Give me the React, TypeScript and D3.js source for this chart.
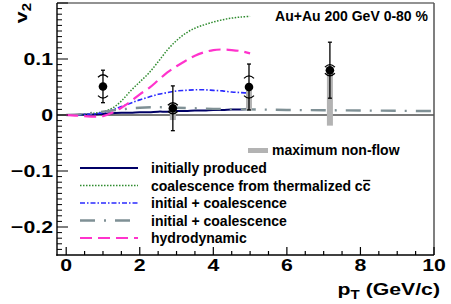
import * as d3 from "d3";

// theory curves share one pT grid (GeV/c)
const curvePt = [0, 0.25, 0.5, 0.75, 1, 1.25, 1.5, 1.75, 2, 2.25, 2.5, 2.75, 3, 3.25, 3.5, 3.75, 4, 4.25, 4.5, 4.75, 5];
const initiallyProduced = [0, 0, 0.001, 0.001, 0.002, 0.003, 0.004, 0.004, 0.005, 0.005, 0.006, 0.006, 0.007, 0.007, 0.008, 0.008, 0.009, 0.009, 0.010, 0.010, 0.011];
const thermalCoal = [0, 0, 0.001, 0.003, 0.006, 0.012, 0.025, 0.043, 0.059, 0.075, 0.095, 0.116, 0.133, 0.146, 0.155, 0.161, 0.166, 0.170, 0.173, 0.175, 0.176];
const initCoalBlue = [0, 0, 0.001, 0.002, 0.004, 0.009, 0.015, 0.021, 0.027, 0.032, 0.037, 0.040, 0.043, 0.044, 0.045, 0.045, 0.044, 0.043, 0.041, 0.040, 0.039];
const hydro = [0, -0.001, -0.002, -0.003, -0.002, 0.004, 0.013, 0.024, 0.037, 0.048, 0.062, 0.076, 0.087, 0.097, 0.106, 0.112, 0.116, 0.117, 0.116, 0.114, 0.110];

const grayPt = [0, 0.5, 1, 1.5, 2, 2.5, 3, 4, 5, 6, 7, 8, 9, 10];
const initCoalGray = [0, 0.002, 0.006, 0.010, 0.013, 0.014, 0.013, 0.011, 0.010, 0.009, 0.0085, 0.008, 0.0075, 0.007];

// measured points
const dataPt = [1.0, 2.9, 4.97, 7.17];
const dataV2 = [0.051, 0.012, 0.050, 0.080];
const statErr = [0.029, 0.04, 0.041, 0.05];
const sysErr = [0.02, 0.009, 0.019, 0.009];
const nonFlow = [0, 0.021, 0.041, 0.099];

const xTicks = [0, 2, 4, 6, 8, 10];
const yTicks = [-0.2, -0.1, 0, 0.1];

const legendLabels = ["initially produced", "coalescence from thermalized cc", "initial + coalescence", "initial + coalescence", "hydrodynamic"];

const W = 451;
const H = 304;
const FONT = "'Liberation Sans', Arial, Helvetica, sans-serif";
const STRETCH = 1.25; // axis text in the original is drawn wider than plain Helvetica

const styles = [
  { color: "#000066", width: 2, dash: "" },
  { color: "#2e8b2e", width: 1.5, dash: "1.5 1.5" },
  { color: "#2a2aff", width: 1.6, dash: "5 2 1.5 2" },
  { color: "#7f9095", width: 2.4, dash: "15 9 2 9" },
  { color: "#ff33cc", width: 2.2, dash: "12 6" },
];

export default function App() {
  const x = d3.scaleLinear().domain([-0.25, 10]).range([57, 434]);
  const y = d3.scaleLinear().domain([-0.25, 0.2]).range([255, 3]);

  const curves = [initiallyProduced, thermalCoal, initCoalBlue, null, hydro];

  const line = d3
    .line<[number, number]>()
    .x((d) => x(d[0]))
    .y((d) => y(d[1]))
    .curve(d3.curveCatmullRom);

  const minorX = d3.range(0, 10.001, 0.5);
  const minorY = d3.range(-24, 21).map((i) => i / 100);

  const legendY = [168, 185.5, 203, 220.5, 238];

  return (
    <svg width={W} height={H} style={{ position: "absolute", left: 0, top: 0, background: "#fff" }} fontFamily={FONT} fontWeight="bold">
      {/* zero line */}
      <line x1={x.range()[0]} x2={x.range()[1]} y1={y(0)} y2={y(0)} stroke="#7a7a7a" strokeWidth={2} />

      {/* theory curves */}
      {curves.map((vals, i) => {
        const pts = vals
          ? curvePt.map((p, j) => [p, vals[j]] as [number, number])
          : grayPt.map((p, j) => [p, initCoalGray[j]] as [number, number]);
        return (
          <path
            key={i}
            d={line(pts) ?? ""}
            fill="none"
            stroke={styles[i].color}
            strokeWidth={styles[i].width}
            strokeDasharray={styles[i].dash}
          />
        );
      })}

      {/* non-flow bars */}
      {dataPt.map((p, i) =>
        nonFlow[i] > 0 ? (
          <rect key={i} x={x(p) - 3} width={6} y={y(dataV2[i])} height={y(dataV2[i] - nonFlow[i]) - y(dataV2[i])} fill="#b3b3b3" />
        ) : null,
      )}

      {/* data points */}
      {dataPt.map((p, i) => {
        const cx = x(p);
        const cy = y(dataV2[i]);
        const top = y(dataV2[i] + statErr[i]);
        const bot = y(dataV2[i] - statErr[i]);
        const sTop = y(dataV2[i] + sysErr[i]);
        const sBot = y(dataV2[i] - sysErr[i]);
        return (
          <g key={i} stroke="#000" fill="none" strokeWidth={1.3}>
            <line x1={cx} x2={cx} y1={top} y2={bot} />
            <line x1={cx - 2} x2={cx + 2} y1={top} y2={top} />
            <line x1={cx - 2} x2={cx + 2} y1={bot} y2={bot} />
            <path d={`M${cx - 5},${sTop + 2} Q${cx},${sTop - 3} ${cx + 5},${sTop + 2}`} />
            <path d={`M${cx - 5},${sBot - 2} Q${cx},${sBot + 3} ${cx + 5},${sBot - 2}`} />
            <circle cx={cx} cy={cy} r={4.3} fill="#000" stroke="none" />
          </g>
        );
      })}

      {/* frame */}
      <line x1={57} x2={434} y1={3} y2={3} stroke="#6e6e6e" strokeWidth={1.5} />
      <line x1={434} x2={434} y1={3} y2={255} stroke="#555" strokeWidth={1.5} />
      <line x1={57} x2={57} y1={3} y2={255.7} stroke="#000" strokeWidth={1.4} />
      <line x1={56.3} x2={434} y1={255} y2={255} stroke="#000" strokeWidth={1.4} />

      {/* x ticks */}
      {minorX.map((t) => {
        const major = Math.abs(t % 2) < 1e-6;
        return <line key={t} x1={x(t)} x2={x(t)} y1={255} y2={255 - (major ? 8 : 4)} stroke="#000" strokeWidth={1.2} />;
      })}
      {/* y ticks */}
      {minorY.map((t) => {
        const major = Math.abs(Math.round(t * 100) % 10) === 0;
        return <line key={t} x1={57} x2={57 + (major ? 11 : 5)} y1={y(t)} y2={y(t)} stroke="#000" strokeWidth={1} />;
      })}

      {/* tick labels */}
      {xTicks.map((t) => (
        <text key={t} transform={`translate(${x(t)},271) scale(${STRETCH},1)`} textAnchor="middle" fontSize={17}>
          {t}
        </text>
      ))}
      {yTicks.map((t) => (
        <text key={t} transform={`translate(53,${y(t) + 6}) scale(${STRETCH},1)`} textAnchor="end" fontSize={17}>
          {t === 0 ? "0" : d3.format(".1f")(t)}
        </text>
      ))}

      {/* axis titles */}
      <text transform={`translate(440,295) scale(${STRETCH},1)`} textAnchor="end" fontSize={17}>
        p<tspan fontSize={12} dy={4}>T</tspan>
        <tspan dy={-4}> (GeV/c)</tspan>
      </text>
      <text transform={`translate(27,3) rotate(-90) scale(${STRETCH},1)`} textAnchor="end" fontSize={17}>
        v<tspan fontSize={12} dy={4}>2</tspan>
      </text>

      <text x={428} y={20.5} textAnchor="end" fontSize={14}>
        Au+Au 200 GeV 0-80 %
      </text>

      {/* legend */}
      <rect x={248} y={148} width={20} height={5} fill="#b3b3b3" />
      <text x={272} y={155} fontSize={14}>
        maximum non-flow
      </text>
      {legendLabels.map((label, i) => (
        <g key={i}>
          <line
            x1={80}
            x2={138}
            y1={legendY[i]}
            y2={legendY[i]}
            stroke={styles[i].color}
            strokeWidth={styles[i].width}
            strokeDasharray={styles[i].dash}
          />
          <text x={151} y={legendY[i] + 5} fontSize={14}>
            {label}
          </text>
        </g>
      ))}
      {/* bar over the anti-charm c */}
      <line x1={363} x2={370.3} y1={legendY[1] - 5} y2={legendY[1] - 5} stroke="#000" strokeWidth={1.3} />
    </svg>
  );
}
